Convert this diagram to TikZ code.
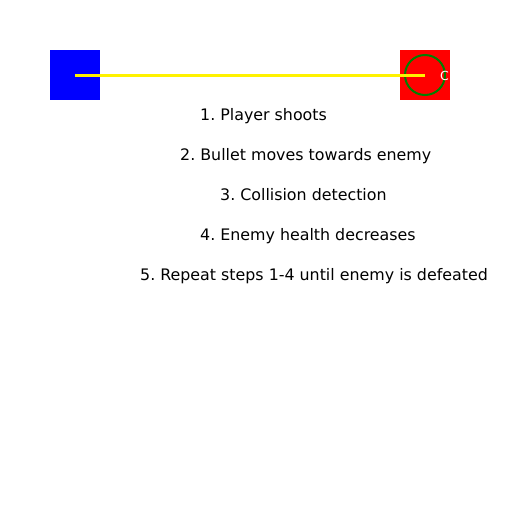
\documentclass[tikz,border=0pt]{standalone}
\usepackage{fontspec}
\setmainfont{DejaVu Sans}
\frenchspacing
\begin{document}
\begin{tikzpicture}[x=1pt,y=-1pt,
  step text/.style={anchor=base west,inner sep=0pt,font=\fontsize{15.85}{19}\selectfont,text=black},
  boxnode/.style={minimum width=50pt,minimum height=50pt,inner sep=0pt,draw=none}]
\useasboundingbox[fill=white] (0,0) rectangle (512,512);
\node[boxnode,fill=blue] (player) at (75,75) {};
\node[boxnode,fill={rgb,255:red,255;green,0;blue,0}] (enemy) at (425,75) {};
\node[circle,minimum size=40pt,inner sep=0pt,draw={rgb,255:red,0;green,128;blue,0},line width=2pt] (target) at (425,75) {};
\draw[yellow,line width=3pt] (player.center) -- (target.center);
\node[anchor=base west,inner sep=0pt,text=white,font=\fontsize{12.5}{14}\selectfont] (c) at (440,80) {C};
\node[step text] (s1) at (200,120) {1. Player shoots};
\node[step text] (s2) at (180,160) {2. Bullet moves towards enemy};
\node[step text] (s3) at (220,200) {3. Collision detection};
\node[step text] (s4) at (200,240) {4. Enemy health decreases};
\node[step text] (s5) at (140,280) {5. Repeat steps 1-4 until enemy is defeated};
\end{tikzpicture}
\end{document}
